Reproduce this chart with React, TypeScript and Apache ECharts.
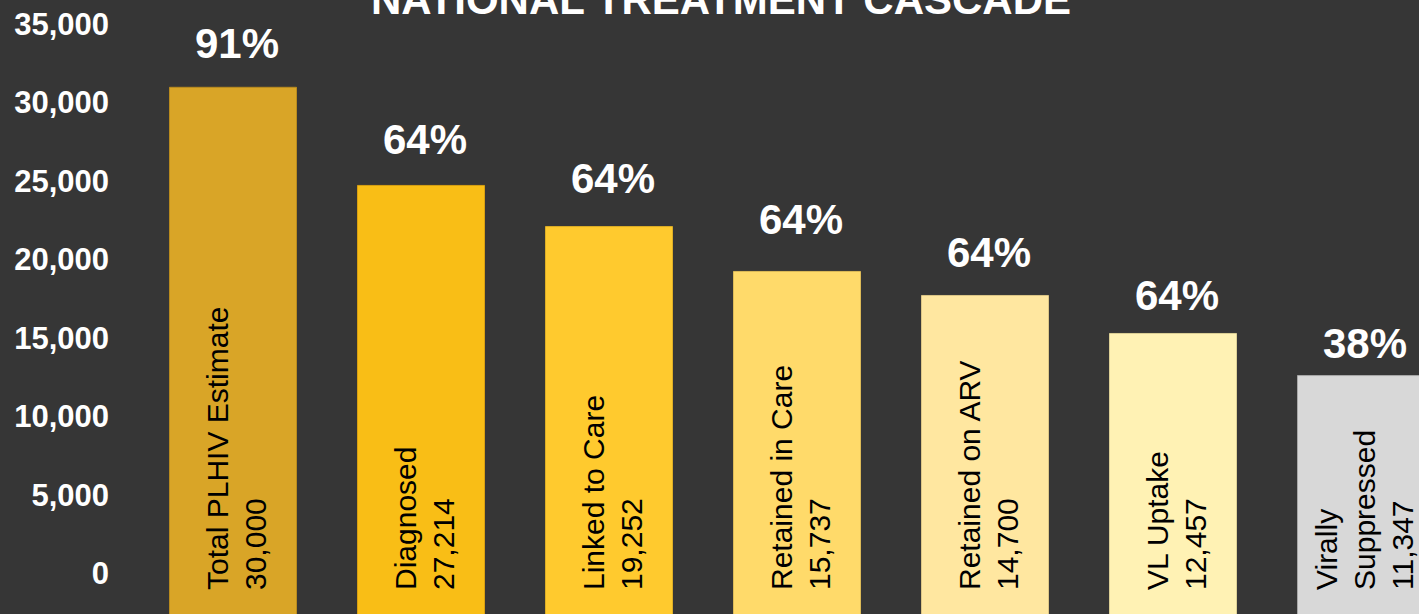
import React, { useEffect, useRef } from "react";
import * as echarts from "echarts";

const title = "NATIONAL TREATMENT CASCADE";
const categories = [
  "Total PLHIV Estimate",
  "Diagnosed",
  "Linked to Care",
  "Retained in Care",
  "Retained on ARV",
  "VL Uptake",
  "Virally\nSuppressed",
];
const counts = [30000, 27214, 19252, 15737, 14700, 12457, 11347];
const barHeights = [31000, 24750, 22130, 19270, 17740, 15320, 12640];
const percents = [91, 64, 64, 64, 64, 64, 38];
const yMin = -5000;
const yMax = 35000;
const yInterval = 5000;

// styles
const barColors = ["#D9A527", "#F9BE16", "#FFCA2E", "#FFDA6A", "#FFE7A0", "#FFF2B4", "#D8D8D8"];
const barBorders = ["#B98B1E", "#D9A012", "#DDAE26", "#DDBB58", "#DDC686", "#DDD096", "#A8A8A8"];
const pctGaps = [22, 24, 27, 30, 21, 16, 11];

const FONT = "'Liberation Sans', Arial, Helvetica, sans-serif";

export default function App() {
  const ref = useRef<HTMLDivElement>(null);
  useEffect(() => {
    if (!ref.current) return;
    const chart = echarts.init(ref.current, undefined, { renderer: "svg" });
    chart.setOption({
      animation: false,
      backgroundColor: "#363636",
      graphic: [
        {
          type: "text",
          x: 721,
          y: 20,
          style: {
            text: title,
            fill: "#FFFFFF",
            font: `bold 42px ${FONT}`,
            textAlign: "center",
            textVerticalAlign: "bottom",
          },
        },
      ],
      grid: { left: 139, right: 25, top: 24, bottom: 18, containLabel: false },
      xAxis: {
        type: "category",
        data: categories,
        axisLine: { show: false },
        axisTick: { show: false },
        axisLabel: { show: false },
        splitLine: { show: false },
      },
      yAxis: {
        type: "value",
        min: yMin,
        max: yMax,
        interval: yInterval,
        startValue: yMin,
        axisLine: { show: false },
        axisTick: { show: false },
        splitLine: { show: false },
        axisLabel: {
          color: "#FFFFFF",
          fontFamily: FONT,
          fontWeight: "bold",
          fontSize: 31,
          margin: 30,
          formatter: (v: number) => (v < 0 ? "" : v.toLocaleString("en-US")),
        },
      },
      series: [
        {
          type: "bar",
          barWidth: 128,
          silent: true,
          data: barHeights.map((v, i) => ({
            value: v,
            itemStyle: { color: barColors[i], borderColor: barBorders[i], borderWidth: 1 },
          })),
          label: {
            show: true,
            position: "insideBottom",
            rotate: 90,
            align: "left",
            verticalAlign: "middle",
            distance: 62,
            offset: [0, 3],
            color: "#000000",
            fontFamily: FONT,
            fontSize: 30,
            lineHeight: 38,
            formatter: (p: any) =>
              `${categories[p.dataIndex]}\n${counts[p.dataIndex].toLocaleString("en-US")}`,
          },
        },
        {
          type: "bar",
          barWidth: 128,
          barGap: "-100%",
          silent: true,
          itemStyle: { color: "rgba(0,0,0,0)" },
          data: barHeights.map((v, i) => ({
            value: v,
            label: { distance: pctGaps[i] },
          })),
          label: {
            show: true,
            position: "top",
            color: "#FFFFFF",
            fontFamily: FONT,
            fontWeight: "bold",
            fontSize: 42,
            offset: [4, 0],
            formatter: (p: any) => `${percents[p.dataIndex]}%`,
          },
        },
      ],
    });
    return () => chart.dispose();
  }, []);
  return (
    <div
      style={{
        position: "fixed",
        left: 0,
        top: 0,
        width: 1419,
        height: 614,
        overflow: "hidden",
        background: "#363636",
      }}
    >
      <div ref={ref} style={{ width: 1480, height: 670 }} />
    </div>
  );
}
